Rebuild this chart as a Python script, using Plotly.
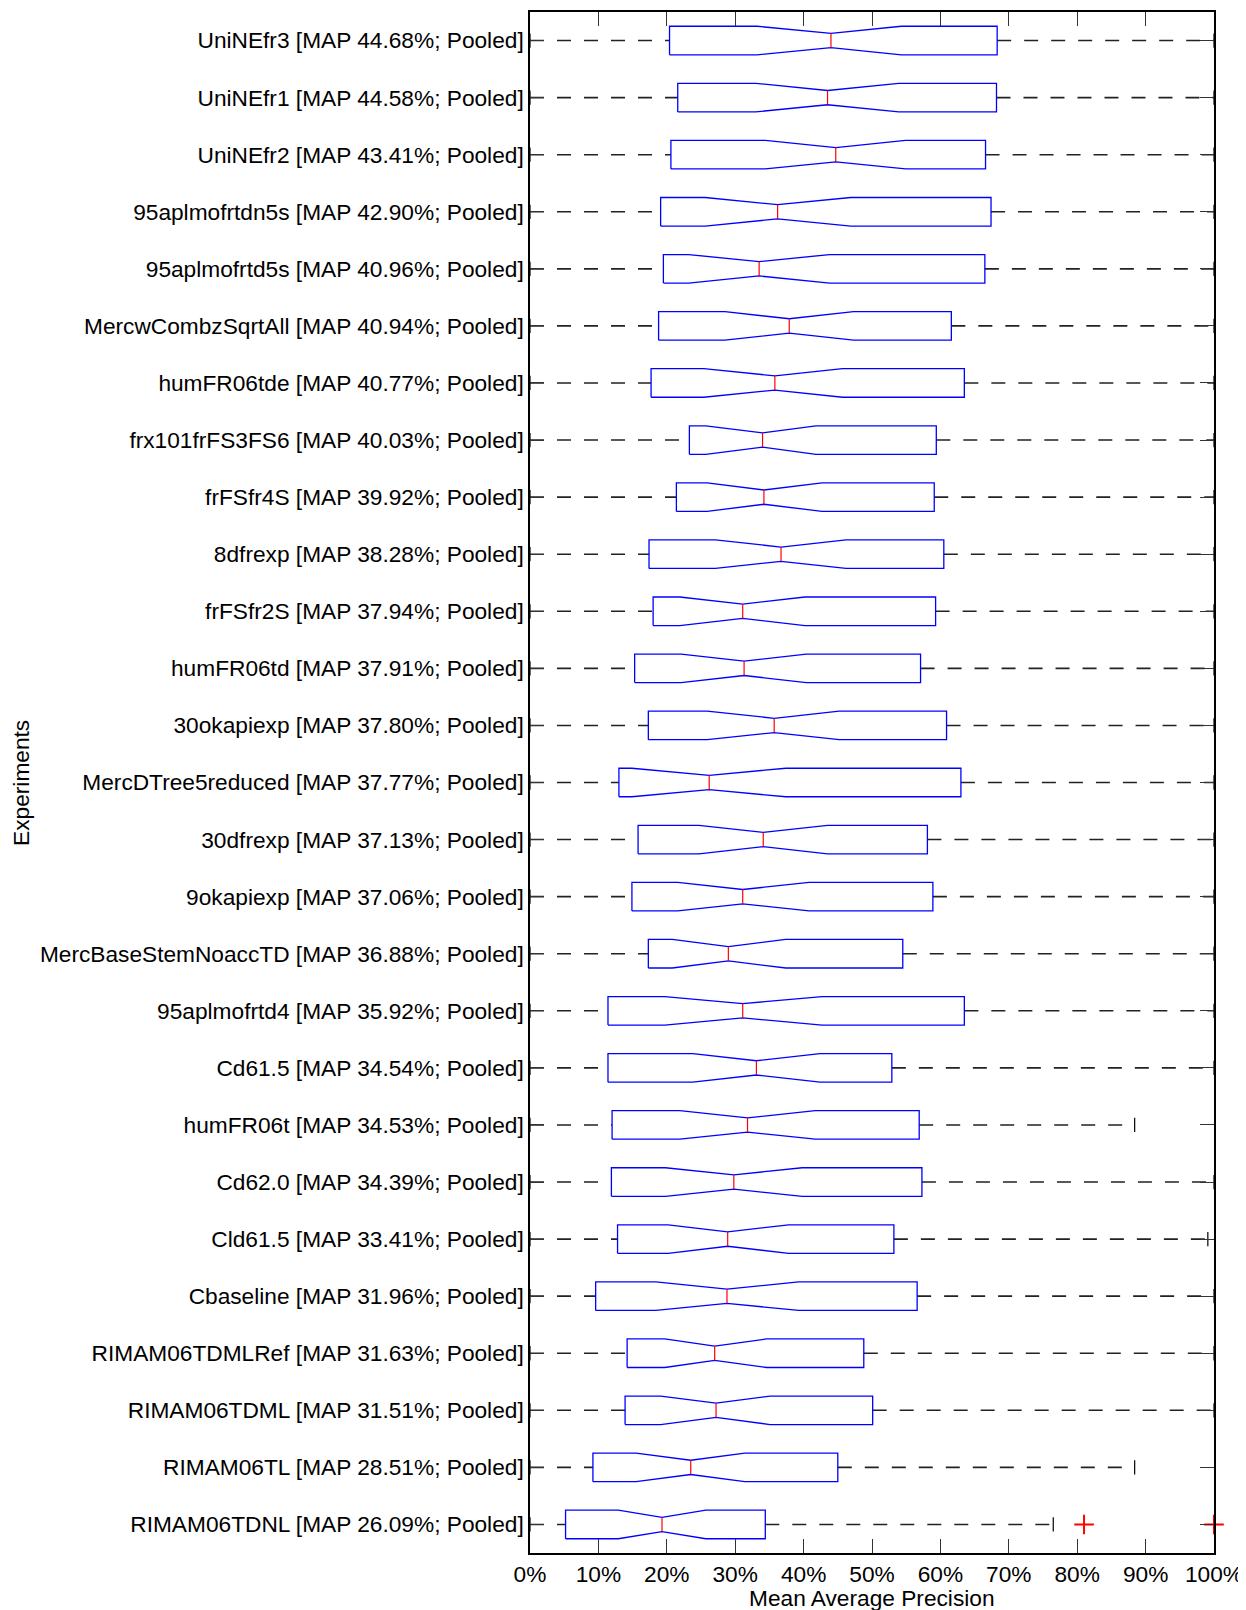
import plotly.graph_objects as go

labels = [
    "UniNEfr3 [MAP 44.68%; Pooled]",
    "UniNEfr1 [MAP 44.58%; Pooled]",
    "UniNEfr2 [MAP 43.41%; Pooled]",
    "95aplmofrtdn5s [MAP 42.90%; Pooled]",
    "95aplmofrtd5s [MAP 40.96%; Pooled]",
    "MercwCombzSqrtAll [MAP 40.94%; Pooled]",
    "humFR06tde [MAP 40.77%; Pooled]",
    "frx101frFS3FS6 [MAP 40.03%; Pooled]",
    "frFSfr4S [MAP 39.92%; Pooled]",
    "8dfrexp [MAP 38.28%; Pooled]",
    "frFSfr2S [MAP 37.94%; Pooled]",
    "humFR06td [MAP 37.91%; Pooled]",
    "30okapiexp [MAP 37.80%; Pooled]",
    "MercDTree5reduced [MAP 37.77%; Pooled]",
    "30dfrexp [MAP 37.13%; Pooled]",
    "9okapiexp [MAP 37.06%; Pooled]",
    "MercBaseStemNoaccTD [MAP 36.88%; Pooled]",
    "95aplmofrtd4 [MAP 35.92%; Pooled]",
    "Cd61.5 [MAP 34.54%; Pooled]",
    "humFR06t [MAP 34.53%; Pooled]",
    "Cd62.0 [MAP 34.39%; Pooled]",
    "Cld61.5 [MAP 33.41%; Pooled]",
    "Cbaseline [MAP 31.96%; Pooled]",
    "RIMAM06TDMLRef [MAP 31.63%; Pooled]",
    "RIMAM06TDML [MAP 31.51%; Pooled]",
    "RIMAM06TL [MAP 28.51%; Pooled]",
    "RIMAM06TDNL [MAP 26.09%; Pooled]",
]

whisker_lo = [0.0] * 27
q1 = [20.4, 21.6, 20.6, 19.1, 19.5, 18.8, 17.7, 23.3, 21.4, 17.4, 18.0, 15.3, 17.3, 13.0,
      15.8, 14.9, 17.3, 11.4, 11.4, 12.0, 11.9, 12.8, 9.6, 14.2, 13.9, 9.2, 5.2]
notch_lo = [33.2, 33.0, 34.4, 25.6, 23.2, 28.5, 25.4, 25.7, 25.9, 27.1, 21.9, 22.1, 25.9, 14.9,
            24.7, 21.6, 20.8, 19.7, 23.8, 21.9, 19.8, 20.2, 18.4, 19.7, 19.1, 15.5, 12.9]
median = [44.0, 43.5, 44.7, 36.2, 33.5, 37.9, 35.8, 34.0, 34.2, 36.7, 31.1, 31.3, 35.7, 26.2,
          34.1, 31.1, 29.0, 31.1, 33.1, 31.8, 29.8, 28.9, 28.8, 27.0, 27.2, 23.5, 19.3]
notch_hi = [54.3, 53.9, 54.9, 46.9, 43.8, 47.3, 45.7, 41.8, 42.7, 46.2, 40.2, 40.4, 45.2, 37.4,
            43.5, 40.8, 37.4, 42.7, 42.4, 41.7, 39.8, 37.8, 39.3, 34.6, 35.1, 31.4, 25.7]
q3 = [68.3, 68.2, 66.6, 67.4, 66.5, 61.6, 63.5, 59.4, 59.1, 60.5, 59.3, 57.1, 60.9, 63.0,
      58.1, 58.9, 54.5, 63.5, 52.9, 56.9, 57.3, 53.2, 56.6, 48.8, 50.1, 45.0, 34.4]
whisker_hi = [100.0, 100.0, 100.0, 100.0, 100.0, 100.0, 100.0, 100.0, 100.0, 100.0, 100.0,
              100.0, 100.0, 100.0, 100.0, 100.0, 100.0, 100.0, 100.0, 88.4, 100.0, 99.1,
              100.0, 100.0, 100.0, 88.4, 76.5]
outliers = {26: [81.0, 100.0]}

x_ticks = [0, 10, 20, 30, 40, 50, 60, 70, 80, 90, 100]
x_tick_text = ["0%", "10%", "20%", "30%", "40%", "50%", "60%", "70%", "80%", "90%", "100%"]

n = len(labels)
pos = [n - i for i in range(n)]
h = 0.25
cap = 0.125

bx, by = [], []
mx, my = [], []
wx, wy = [], []
cx, cy = [], []
ox, oy = [], []
for i in range(n):
    y = pos[i]
    bx += [q1[i], notch_lo[i], median[i], notch_hi[i], q3[i], q3[i], notch_hi[i], median[i],
           notch_lo[i], q1[i], q1[i], None]
    by += [y - h, y - h, y - h / 2, y - h, y - h, y + h, y + h, y + h / 2, y + h, y + h, y - h, None]
    mx += [median[i], median[i], None]
    my += [y - h / 2, y + h / 2, None]
    wx += [whisker_lo[i], q1[i], None, q3[i], whisker_hi[i], None]
    wy += [y, y, None, y, y, None]
    cx += [whisker_lo[i], whisker_lo[i], None, whisker_hi[i], whisker_hi[i], None]
    cy += [y - cap, y + cap, None, y - cap, y + cap, None]
    for v in outliers.get(i, []):
        ox.append(v)
        oy.append(y)

fig = go.Figure()
fig.add_trace(go.Scatter(x=wx, y=wy, mode="lines",
                         line=dict(color="#222222", width=1.6, dash="14px,13px"),
                         hoverinfo="skip", showlegend=False))
fig.add_trace(go.Scatter(x=cx, y=cy, mode="lines",
                         line=dict(color="black", width=1.2),
                         hoverinfo="skip", showlegend=False))
fig.add_trace(go.Scatter(x=bx, y=by, mode="lines",
                         line=dict(color="#0000ff", width=1.3),
                         hoverinfo="skip", showlegend=False))
fig.add_trace(go.Scatter(x=mx, y=my, mode="lines",
                         line=dict(color="#ff0000", width=1.2),
                         hoverinfo="skip", showlegend=False))
fig.add_trace(go.Scatter(x=ox, y=oy, mode="markers",
                         marker=dict(symbol="cross-thin", size=14, color="#ff0000",
                                     line=dict(color="#ff0000", width=2)),
                         hoverinfo="skip", showlegend=False, cliponaxis=False))

font = "Liberation Sans, Arial, Helvetica, sans-serif"
fs = 22.7
fig.update_layout(
    width=1238, height=1602,
    margin=dict(l=522, r=32, t=4, b=57, autoexpand=False),
    paper_bgcolor="white", plot_bgcolor="white",
    font=dict(family=font, size=fs, color="black"),
    showlegend=False,
    xaxis=dict(range=[0, 100], tickvals=x_ticks, ticktext=x_tick_text, automargin=False,
               showgrid=False, zeroline=False, showline=True, linecolor="black",
               linewidth=1.5, mirror="ticks", ticks="inside", ticklen=14,
               tickcolor="#333333", tickwidth=1, tickfont=dict(size=fs, family=font)),
    yaxis=dict(range=[0.5, n + 0.5], tickvals=pos, ticktext=labels, automargin=False,
               showgrid=False, zeroline=False, showline=True, linecolor="black",
               linewidth=1.5, mirror="ticks", ticks="inside", ticklen=14,
               tickcolor="#333333", tickwidth=1, tickfont=dict(size=fs, family=font)),
    annotations=[
        dict(text="Mean Average Precision", xref="paper", yref="paper", x=0.5, y=-0.0292,
             xanchor="center", yanchor="middle", showarrow=False,
             font=dict(size=fs, family=font)),
        dict(text="Experiments", xref="paper", yref="paper", x=-0.745, y=0.5,
             xanchor="center", yanchor="middle", textangle=-90, showarrow=False,
             font=dict(size=fs, family=font)),
    ],
)

fig.write_html("out.html")
